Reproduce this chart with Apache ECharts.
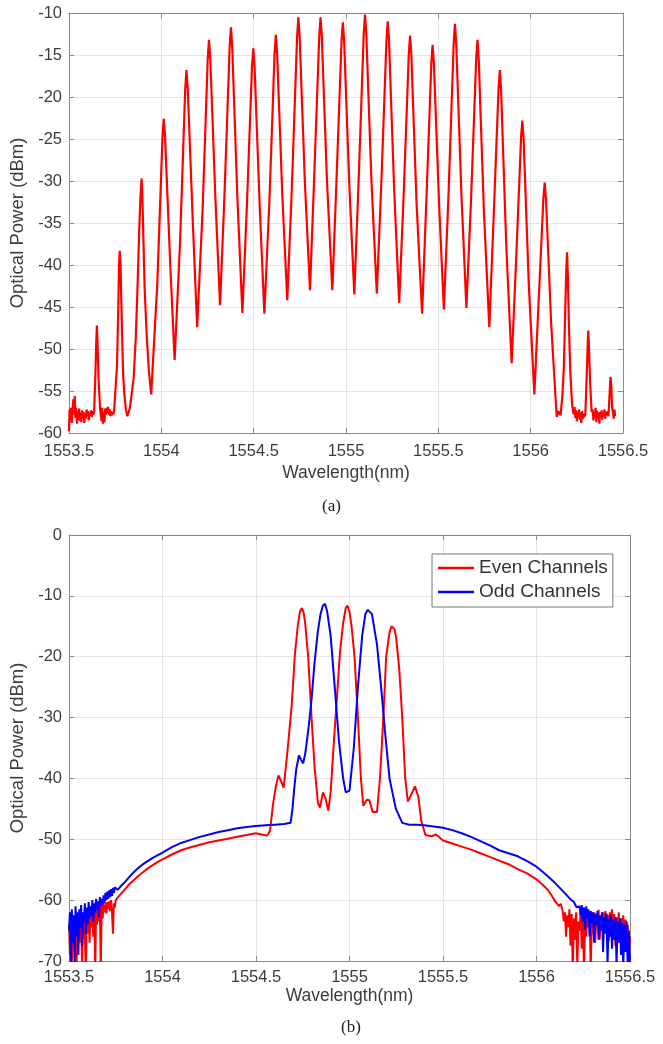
<!DOCTYPE html>
<html>
<head>
<meta charset="utf-8">
<script src="https://cdn.jsdelivr.net/npm/echarts@6/dist/echarts.min.js"></script>
<style>
html,body{margin:0;padding:0;background:#fff;}
#chart{width:663px;height:1044px;}
</style>
</head>
<body>
<div id="chart"></div>
<script>
// ---------- Data ----------
const xTickLabels = ['1553.5','1554','1554.5','1555','1555.5','1556','1556.5'];
const topYTicks = [-60,-55,-50,-45,-40,-35,-30,-25,-20,-15,-10];
const bottomYTicks = [-70,-60,-50,-40,-30,-20,-10,0];
const seriesNames = ['Even Channels','Odd Channels'];

// (a) comb spectrum: [wavelength nm, power dBm]
const combSpectrum = [
[1553.500,-59.8],[1553.503,-57.2],[1553.507,-58.5],[1553.511,-57.0],[1553.515,-58.8],[1553.519,-57.5],[1553.523,-56.0],[1553.527,-57.8],[1553.531,-55.6],[1553.535,-58.2],
[1553.539,-57.0],[1553.543,-58.9],[1553.547,-57.4],[1553.551,-58.4],[1553.555,-57.1],[1553.559,-58.6],[1553.563,-57.6],[1553.567,-58.7],[1553.571,-57.3],[1553.575,-58.2],
[1553.579,-57.5],[1553.583,-58.8],[1553.587,-57.7],[1553.591,-58.3],[1553.595,-57.2],[1553.599,-58.0],[1553.603,-57.4],[1553.607,-58.5],[1553.611,-57.6],[1553.615,-57.9],
[1553.619,-57.3],[1553.623,-58.1],[1553.627,-57.4],[1553.631,-57.8],
[1553.636,-57.5],[1553.643,-53.0],[1553.647,-49.5],[1553.651,-47.2],[1553.655,-49.5],[1553.660,-53.5],[1553.668,-57.0],
[1553.672,-57.2],[1553.676,-58.6],[1553.680,-57.0],[1553.684,-58.9],[1553.688,-57.5],[1553.692,-58.7],[1553.696,-57.1],[1553.700,-57.8],[1553.704,-57.0],[1553.708,-57.6],
[1553.712,-56.9],[1553.716,-57.8],[1553.720,-57.2],[1553.724,-58.0],[1553.728,-57.4],[1553.732,-57.9],[1553.736,-57.5],[1553.740,-57.8],[1553.744,-57.4],
[1553.750,-57.5],[1553.760,-52.0],[1553.767,-45.0],[1553.771,-40.0],[1553.775,-38.3],[1553.779,-40.0],[1553.785,-46.0],[1553.793,-53.0],[1553.800,-55.5],[1553.808,-57.2],[1553.816,-58.0],
[1553.830,-57.0],[1553.850,-53.5],[1553.862,-48.5],[1553.872,-42.0],[1553.880,-36.0],[1553.887,-32.0],[1553.893,-29.7],[1553.897,-31.5],[1553.903,-37.0],[1553.910,-43.0],[1553.920,-48.0],[1553.932,-52.5],[1553.945,-55.4],
[1553.978,-42.3],[1553.995,-31.8],[1554.006,-24.9],[1554.013,-22.6],[1554.020,-24.6],[1554.031,-30.6],[1554.048,-39.8],[1554.072,-51.3],
[1554.101,-37.5],[1554.118,-26.5],[1554.129,-19.2],[1554.136,-16.8],[1554.143,-19.0],[1554.154,-25.4],[1554.171,-35.2],[1554.194,-47.4],
[1554.223,-33.7],[1554.240,-22.8],[1554.251,-15.6],[1554.258,-13.2],[1554.265,-15.4],[1554.276,-22.0],[1554.293,-32.2],[1554.318,-44.8],
[1554.342,-31.6],[1554.359,-21.0],[1554.370,-14.0],[1554.377,-11.7],[1554.384,-14.1],[1554.395,-21.2],[1554.412,-32.1],[1554.439,-45.7],
[1554.463,-33.1],[1554.480,-23.0],[1554.491,-16.4],[1554.498,-14.2],[1554.505,-16.4],[1554.516,-23.0],[1554.533,-33.2],[1554.558,-45.8],
[1554.585,-32.5],[1554.602,-21.9],[1554.613,-14.9],[1554.620,-12.6],[1554.627,-14.8],[1554.638,-21.4],[1554.655,-31.6],[1554.682,-44.2],
[1554.707,-30.7],[1554.724,-19.9],[1554.735,-12.9],[1554.742,-10.5],[1554.749,-12.8],[1554.760,-19.6],[1554.777,-30.0],[1554.805,-43.0],
[1554.827,-30.0],[1554.844,-19.6],[1554.855,-12.8],[1554.862,-10.5],[1554.869,-12.8],[1554.880,-19.6],[1554.897,-30.0],[1554.926,-43.0],
[1554.948,-30.2],[1554.965,-20.0],[1554.976,-13.3],[1554.983,-11.1],[1554.990,-13.4],[1555.001,-20.2],[1555.018,-30.5],[1555.045,-43.5],
[1555.068,-30.2],[1555.085,-19.5],[1555.096,-12.5],[1555.103,-10.2],[1555.110,-12.5],[1555.121,-19.5],[1555.138,-30.1],[1555.167,-43.4],
[1555.191,-30.4],[1555.208,-20.1],[1555.219,-13.3],[1555.226,-11.0],[1555.233,-13.3],[1555.244,-20.4],[1555.261,-31.1],[1555.288,-44.5],
[1555.312,-31.8],[1555.329,-21.6],[1555.340,-14.9],[1555.347,-12.7],[1555.354,-15.0],[1555.365,-22.0],[1555.382,-32.6],[1555.412,-45.8],
[1555.434,-33.0],[1555.451,-22.8],[1555.462,-16.0],[1555.469,-13.8],[1555.476,-16.0],[1555.487,-22.6],[1555.504,-32.7],[1555.530,-45.3],
[1555.555,-31.7],[1555.572,-20.8],[1555.583,-13.7],[1555.590,-11.3],[1555.597,-13.7],[1555.608,-20.7],[1555.625,-31.6],[1555.652,-45.1],
[1555.677,-32.3],[1555.694,-22.1],[1555.705,-15.4],[1555.712,-13.2],[1555.719,-15.6],[1555.730,-22.8],[1555.747,-33.7],[1555.776,-47.4],
[1555.798,-35.2],[1555.815,-25.4],[1555.826,-19.0],[1555.833,-16.8],[1555.840,-19.2],[1555.851,-26.6],[1555.868,-37.7],[1555.897,-51.7],
[1555.920,-40.1],[1555.937,-30.9],[1555.948,-24.8],[1555.955,-22.8],[1555.962,-25.1],[1555.973,-32.0],[1555.990,-42.4],[1556.020,-55.4],
[1556.041,-45.3],[1556.058,-37.3],[1556.069,-32.0],[1556.076,-30.2],[1556.083,-32.2],[1556.094,-38.0],[1556.111,-47.0],[1556.141,-58.1],
[1556.150,-57.4],[1556.162,-57.9],[1556.172,-55.5],[1556.180,-52.0],[1556.187,-45.5],[1556.193,-40.5],[1556.197,-38.5],[1556.201,-41.0],[1556.207,-47.0],[1556.215,-53.0],[1556.224,-56.5],[1556.230,-57.5],
[1556.234,-57.8],[1556.238,-56.9],[1556.242,-58.2],[1556.246,-57.3],[1556.250,-58.6],[1556.254,-57.5],[1556.258,-58.0],[1556.262,-57.2],[1556.266,-58.4],[1556.270,-57.6],
[1556.274,-58.8],[1556.278,-57.4],[1556.282,-58.3],[1556.286,-57.7],[1556.290,-58.1],
[1556.296,-57.8],[1556.303,-53.5],[1556.308,-50.0],[1556.312,-47.8],[1556.316,-50.0],[1556.322,-54.0],[1556.330,-57.5],
[1556.336,-57.2],[1556.340,-58.5],[1556.344,-57.5],[1556.348,-58.1],[1556.352,-57.0],[1556.356,-58.7],[1556.360,-57.4],[1556.364,-58.2],[1556.368,-57.6],[1556.372,-58.9],
[1556.376,-57.5],[1556.380,-58.0],[1556.384,-57.3],[1556.388,-58.4],[1556.392,-57.6],[1556.396,-58.0],[1556.400,-57.2],[1556.404,-58.3],[1556.408,-57.5],[1556.412,-57.9],[1556.416,-57.4],
[1556.421,-58.0],[1556.426,-56.0],[1556.430,-54.2],[1556.433,-53.3],[1556.437,-54.5],[1556.441,-57.0],
[1556.446,-57.6],[1556.450,-58.3],[1556.454,-57.2],[1556.457,-58.0]
];

// (b) Even channels (red)
const evenChannels = [
[1553.500,-64.0],[1553.505,-69.0],[1553.510,-63.5],[1553.515,-71.0],[1553.520,-65.0],[1553.525,-62.5],[1553.530,-68.0],[1553.535,-64.0],[1553.540,-72.0],[1553.545,-63.0],
[1553.550,-66.5],[1553.555,-62.8],[1553.560,-67.0],[1553.565,-63.5],[1553.570,-71.5],[1553.575,-64.0],[1553.580,-62.5],[1553.585,-66.0],[1553.590,-72.0],[1553.595,-63.0],
[1553.600,-65.5],[1553.605,-62.0],[1553.610,-67.0],[1553.615,-61.5],[1553.620,-64.5],[1553.625,-61.8],[1553.630,-66.0],[1553.635,-62.0],[1553.640,-72.0],[1553.645,-61.5],
[1553.650,-64.0],[1553.655,-61.0],[1553.660,-63.5],[1553.665,-60.8],[1553.670,-72.0],[1553.675,-60.5],[1553.680,-63.0],[1553.685,-60.8],[1553.690,-62.0],[1553.695,-60.5],
[1553.700,-62.2],[1553.705,-60.3],[1553.710,-61.5],[1553.715,-60.2],[1553.720,-61.8],[1553.725,-60.0],[1553.730,-62.0],[1553.735,-65.5],[1553.740,-60.5],[1553.745,-61.2],
[1553.750,-60.0],[1553.760,-59.6],[1553.780,-58.9],[1553.800,-58.2],[1553.825,-57.3],[1553.850,-56.6],[1553.875,-55.9],[1553.900,-55.3],[1553.925,-54.7],[1553.950,-54.2],
[1553.975,-53.7],[1554.000,-53.3],[1554.050,-52.5],[1554.100,-51.8],[1554.150,-51.3],[1554.200,-50.9],[1554.250,-50.5],[1554.300,-50.2],[1554.350,-49.9],[1554.400,-49.6],
[1554.450,-49.3],[1554.500,-49.0],[1554.530,-49.2],[1554.560,-49.4],[1554.575,-48.6],[1554.590,-44.5],[1554.605,-41.5],[1554.620,-39.5],[1554.635,-40.5],[1554.648,-41.5],
[1554.660,-38.0],[1554.673,-34.0],[1554.691,-28.0],[1554.707,-20.0],[1554.723,-15.0],[1554.735,-12.6],[1554.745,-12.0],[1554.755,-12.8],[1554.763,-14.5],[1554.779,-20.0],
[1554.797,-30.0],[1554.813,-38.0],[1554.831,-44.0],[1554.842,-44.8],[1554.858,-42.3],[1554.871,-43.2],[1554.887,-45.3],[1554.900,-42.0],[1554.912,-36.0],[1554.932,-27.0],
[1554.950,-19.0],[1554.966,-14.5],[1554.980,-12.0],[1554.989,-11.6],[1555.000,-12.6],[1555.011,-15.0],[1555.027,-20.0],[1555.045,-30.0],[1555.061,-40.0],[1555.074,-44.5],
[1555.093,-43.5],[1555.106,-43.6],[1555.124,-45.5],[1555.147,-45.5],[1555.163,-40.0],[1555.181,-30.0],[1555.196,-20.0],[1555.214,-16.0],[1555.225,-15.0],[1555.232,-14.9],
[1555.241,-15.5],[1555.250,-17.0],[1555.266,-22.0],[1555.282,-30.0],[1555.298,-40.0],[1555.312,-43.8],[1555.332,-42.5],[1555.350,-41.3],[1555.368,-43.0],[1555.384,-47.0],
[1555.406,-49.3],[1555.440,-49.5],[1555.463,-49.2],[1555.485,-49.8],[1555.500,-50.2],[1555.550,-50.7],[1555.600,-51.2],[1555.650,-51.7],[1555.700,-52.3],[1555.750,-52.9],
[1555.800,-53.5],[1555.850,-54.1],[1555.900,-54.9],[1555.950,-55.6],[1556.000,-56.6],[1556.030,-57.4],[1556.060,-58.3],[1556.080,-59.2],[1556.100,-60.2],[1556.120,-61.0],[1556.130,-60.6],
[1556.140,-61.8],[1556.146,-63.5],[1556.152,-62.0],[1556.158,-66.0],[1556.164,-62.5],[1556.170,-64.5],[1556.176,-61.5],[1556.182,-67.5],[1556.188,-62.3],[1556.194,-72.0],
[1556.200,-63.0],[1556.206,-66.5],[1556.212,-62.0],[1556.218,-71.0],[1556.224,-63.5],[1556.230,-65.0],[1556.236,-61.8],[1556.242,-68.0],[1556.248,-62.5],[1556.254,-72.0],
[1556.260,-63.0],[1556.266,-66.0],[1556.272,-61.5],[1556.278,-64.5],[1556.284,-62.2],[1556.290,-71.5],[1556.296,-63.0],[1556.302,-65.5],[1556.308,-62.0],[1556.314,-67.0],
[1556.320,-62.8],[1556.326,-64.0],[1556.332,-61.6],[1556.338,-66.5],[1556.344,-62.5],[1556.350,-63.8],[1556.356,-62.0],[1556.362,-65.5],[1556.368,-61.8],[1556.374,-64.2],
[1556.380,-62.4],[1556.386,-66.8],[1556.392,-62.0],[1556.398,-64.0],[1556.404,-61.5],[1556.410,-65.0],[1556.416,-62.3],[1556.422,-67.5],[1556.428,-62.8],[1556.434,-64.5],
[1556.440,-62.0],[1556.446,-66.0],[1556.452,-63.0],[1556.458,-65.0],[1556.464,-62.5],[1556.470,-67.0],[1556.476,-63.2],[1556.482,-65.5],[1556.488,-64.0],[1556.494,-69.0],[1556.500,-66.0]
];

// (b) Odd channels (blue)
const oddChannels = [
[1553.500,-65.0],[1553.505,-62.0],[1553.510,-70.5],[1553.515,-61.5],[1553.520,-67.0],[1553.525,-62.5],[1553.530,-71.0],[1553.535,-61.0],[1553.540,-66.0],[1553.545,-62.0],
[1553.550,-69.0],[1553.555,-61.5],[1553.560,-64.5],[1553.565,-60.8],[1553.570,-67.5],[1553.575,-62.0],[1553.580,-63.5],[1553.585,-60.5],[1553.590,-65.5],[1553.595,-61.2],
[1553.600,-64.0],[1553.605,-60.3],[1553.610,-63.0],[1553.615,-61.0],[1553.620,-62.5],[1553.625,-60.0],[1553.630,-63.5],[1553.635,-60.5],[1553.640,-62.0],[1553.645,-59.8],
[1553.650,-61.5],[1553.655,-60.2],[1553.660,-62.8],[1553.665,-59.5],[1553.670,-61.0],[1553.675,-59.8],[1553.680,-60.8],[1553.685,-59.2],[1553.690,-60.5],[1553.695,-58.8],
[1553.700,-60.0],[1553.705,-58.6],[1553.710,-59.8],[1553.715,-58.4],[1553.720,-59.5],[1553.725,-58.2],[1553.730,-59.3],[1553.735,-58.0],[1553.740,-58.8],[1553.745,-57.9],
[1553.760,-58.3],[1553.780,-57.6],[1553.800,-57.0],[1553.825,-56.1],[1553.850,-55.3],[1553.875,-54.6],[1553.900,-54.0],[1553.925,-53.5],[1553.950,-53.0],[1553.975,-52.6],
[1554.000,-52.2],[1554.050,-51.3],[1554.100,-50.6],[1554.150,-50.1],[1554.200,-49.6],[1554.250,-49.2],[1554.300,-48.8],[1554.350,-48.5],[1554.400,-48.2],[1554.450,-48.0],
[1554.500,-47.8],[1554.550,-47.7],[1554.600,-47.6],[1554.650,-47.5],[1554.685,-47.3],[1554.695,-45.0],[1554.705,-41.5],[1554.715,-38.5],[1554.730,-36.2],[1554.742,-37.0],
[1554.752,-37.5],[1554.763,-36.0],[1554.780,-32.0],[1554.797,-27.0],[1554.813,-21.0],[1554.830,-16.0],[1554.845,-13.0],[1554.858,-11.6],[1554.869,-11.3],[1554.880,-12.5],
[1554.899,-16.5],[1554.921,-25.0],[1554.944,-34.0],[1554.966,-40.0],[1554.980,-42.3],[1554.989,-42.6],[1555.000,-42.0],[1555.023,-35.0],[1555.045,-25.0],[1555.068,-16.5],
[1555.085,-13.0],[1555.098,-12.3],[1555.108,-12.2],[1555.120,-13.0],[1555.147,-18.0],[1555.169,-25.0],[1555.192,-33.0],[1555.214,-40.0],[1555.248,-45.0],[1555.282,-47.3],
[1555.320,-47.6],[1555.360,-47.6],[1555.400,-47.7],[1555.450,-47.9],[1555.500,-48.1],[1555.550,-48.5],[1555.600,-49.0],[1555.650,-49.6],[1555.700,-50.3],[1555.750,-51.0],
[1555.800,-51.8],[1555.850,-52.3],[1555.900,-52.8],[1555.950,-53.6],[1556.000,-54.5],[1556.050,-55.8],[1556.100,-57.2],[1556.150,-58.8],[1556.180,-59.8],[1556.200,-60.3],[1556.215,-61.2],
[1556.230,-61.0],[1556.236,-62.5],[1556.242,-60.8],[1556.248,-63.5],[1556.254,-61.2],[1556.260,-64.8],[1556.266,-61.0],[1556.272,-63.0],[1556.278,-61.5],[1556.284,-66.0],
[1556.290,-61.8],[1556.296,-63.8],[1556.302,-62.0],[1556.308,-67.0],[1556.314,-62.2],[1556.320,-64.0],[1556.326,-61.8],[1556.332,-66.5],[1556.338,-62.5],[1556.344,-65.0],
[1556.350,-62.0],[1556.356,-68.5],[1556.362,-62.8],[1556.368,-65.5],[1556.374,-62.2],[1556.380,-70.5],[1556.386,-63.0],[1556.392,-66.0],[1556.398,-62.5],[1556.404,-68.0],
[1556.410,-63.2],[1556.416,-66.5],[1556.422,-62.8],[1556.428,-70.5],[1556.434,-63.5],[1556.440,-67.0],[1556.446,-63.0],[1556.452,-69.0],[1556.458,-63.8],[1556.464,-71.0],
[1556.470,-64.0],[1556.476,-68.5],[1556.482,-63.5],[1556.488,-71.0],[1556.494,-65.0],[1556.500,-70.5]
];

// ---------- Chart ----------
const FONT = '"Liberation Sans", Arial, Helvetica, sans-serif';
const AXIS_COLOR = '#8a8a8a';
const LABEL_COLOR = '#3c3c3c';
const GRID_COLOR = '#e4e4e4';

function xMain(gridIndex, labelMargin, nameGap) {
  return {
    gridIndex, type: 'value', position: 'bottom',
    min: Number(xTickLabels[0]), max: Number(xTickLabels[xTickLabels.length - 1]), interval: 0.5,
    axisLine: { show: true, onZero: false, lineStyle: { color: AXIS_COLOR, width: 1 } },
    axisTick: { show: true, inside: true, length: 5, lineStyle: { color: AXIS_COLOR } },
    axisLabel: { color: LABEL_COLOR, fontSize: 16.5, fontFamily: FONT, margin: labelMargin,
      formatter: v => { const i = Math.round((v - 1553.5) / 0.5); return xTickLabels[i] !== undefined ? xTickLabels[i] : String(v); } },
    splitLine: { show: true, lineStyle: { color: GRID_COLOR, width: 1 } },
    name: 'Wavelength(nm)', nameLocation: 'middle', nameGap: nameGap,
    nameTextStyle: { color: LABEL_COLOR, fontSize: 17.5, fontFamily: FONT }
  };
}
function xTop(gridIndex) {
  return {
    gridIndex, type: 'value', position: 'top',
    min: Number(xTickLabels[0]), max: Number(xTickLabels[xTickLabels.length - 1]), interval: 0.5,
    axisLine: { show: true, onZero: false, lineStyle: { color: AXIS_COLOR, width: 1 } },
    axisTick: { show: true, inside: true, length: 5, lineStyle: { color: AXIS_COLOR } },
    axisLabel: { show: false }, splitLine: { show: false }
  };
}
function yMain(gridIndex, ticks) {
  return {
    gridIndex, type: 'value', position: 'left',
    min: ticks[0], max: ticks[ticks.length - 1], interval: ticks[1] - ticks[0],
    axisLine: { show: true, onZero: false, lineStyle: { color: AXIS_COLOR, width: 1 } },
    axisTick: { show: true, inside: true, length: 5, lineStyle: { color: AXIS_COLOR } },
    axisLabel: { color: LABEL_COLOR, fontSize: 16.5, fontFamily: FONT, margin: 7, formatter: v => String(v) },
    splitLine: { show: true, lineStyle: { color: GRID_COLOR, width: 1 } },
    name: 'Optical Power (dBm)', nameLocation: 'middle', nameGap: 32, nameRotate: 90,
    nameTextStyle: { color: LABEL_COLOR, fontSize: 18.5, fontFamily: FONT }
  };
}
function yRight(gridIndex, ticks) {
  return {
    gridIndex, type: 'value', position: 'right',
    min: ticks[0], max: ticks[ticks.length - 1], interval: ticks[1] - ticks[0],
    axisLine: { show: true, onZero: false, lineStyle: { color: AXIS_COLOR, width: 1 } },
    axisTick: { show: true, inside: true, length: 5, lineStyle: { color: AXIS_COLOR } },
    axisLabel: { show: false }, splitLine: { show: false }
  };
}

const chart = echarts.init(document.getElementById('chart'), null, { renderer: 'canvas' });
chart.setOption({
  animation: false,
  backgroundColor: '#ffffff',
  grid: [
    { left: 69, top: 13, width: 554, height: 420, containLabel: false },
    { left: 69, top: 535, width: 561, height: 426, containLabel: false }
  ],
  xAxis: [xMain(0, 10, 31), xTop(0), xMain(1, 8, 24), xTop(1)],
  yAxis: [yMain(0, topYTicks), yRight(0, topYTicks), yMain(1, bottomYTicks), yRight(1, bottomYTicks)],
  legend: {
    data: seriesNames.map(n => ({ name: n, icon: 'rect' })),
    orient: 'vertical', left: 432, top: 554,
    padding: [4, 5, 5, 6], itemGap: 4, itemWidth: 36, itemHeight: 2.5,
    borderColor: '#777', borderWidth: 1, backgroundColor: '#ffffff',
    textStyle: { color: '#333', fontSize: 19, lineHeight: 20, fontFamily: FONT }
  },
  graphic: [
    { type: 'text', left: 'center', top: 498, style: { text: '(a)', font: '17px "Liberation Serif", "Times New Roman", serif', fill: '#222' } },
    { type: 'text', left: 341, top: 1019, style: { text: '(b)', font: '17px "Liberation Serif", "Times New Roman", serif', fill: '#222' } }
  ],
  series: [
    { type: 'line', name: 'comb', xAxisIndex: 0, yAxisIndex: 0, data: combSpectrum,
      symbol: 'none', clip: true, lineStyle: { color: '#ff0000', width: 2.2 }, itemStyle: { color: '#ff0000' } },
    { type: 'line', name: seriesNames[0], xAxisIndex: 2, yAxisIndex: 2, data: evenChannels,
      symbol: 'none', clip: true, lineStyle: { color: '#ff0000', width: 2 }, itemStyle: { color: '#ff0000' } },
    { type: 'line', name: seriesNames[1], xAxisIndex: 2, yAxisIndex: 2, data: oddChannels,
      symbol: 'none', clip: true, lineStyle: { color: '#0000ff', width: 2 }, itemStyle: { color: '#0000ff' } }
  ]
});
</script>
</body>
</html>
